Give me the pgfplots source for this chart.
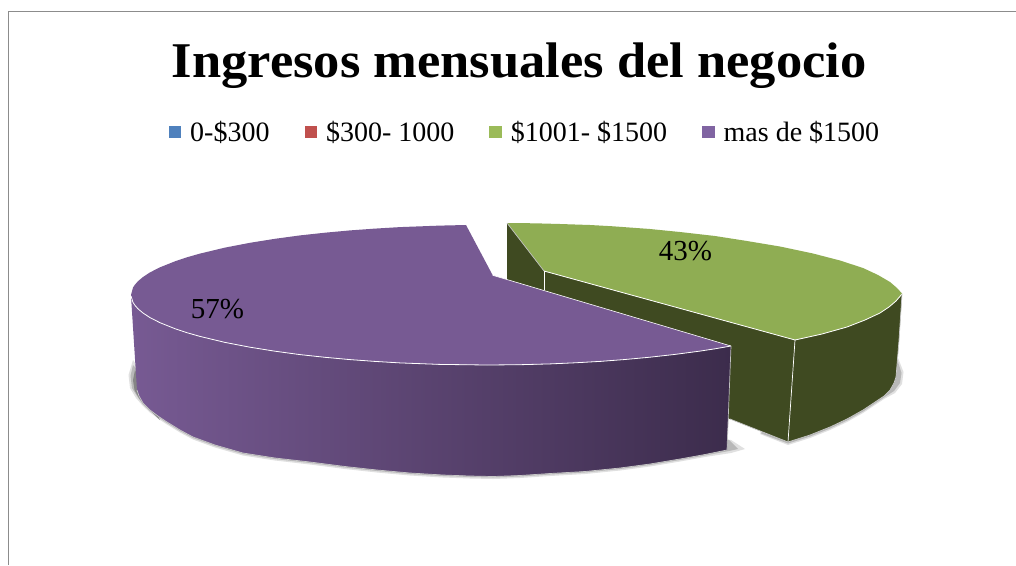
\documentclass[border=0pt]{standalone}
\usepackage{fontspec}
\setmainfont{Liberation Serif}
\usepackage{pgfplots}
\pgfplotsset{compat=1.18}
\definecolor{purpleTop}{HTML}{775A93}
\definecolor{purpleMid}{HTML}{5E4875}
\definecolor{purpleDark}{HTML}{3C2C4C}
\definecolor{greenTop}{HTML}{8FAD53}
\definecolor{greenDark}{HTML}{3F4A21}
\definecolor{frameGray}{HTML}{8C8C8C}
\begin{document}
\begin{tikzpicture}
\begin{axis}[
  scale only axis, width=1016pt, height=565pt,
  xmin=0, xmax=1016, ymin=0, ymax=565, y dir=reverse,
  axis lines=none, ticks=none,
  every axis plot/.append style={no markers, forget plot, line join=round},
  title={\scalebox{1.05}[1]{\fontsize{50}{52}\selectfont\bfseries Ingresos mensuales del negocio}},
  title style={at={(axis description cs:0.511,0.853)}, anchor=base, inner sep=0pt},
  legend columns=4,
  legend style={at={(axis description cs:0.5157,0.766)}, anchor=center, draw=none, fill=none,
    font=\fontsize{28}{30}\selectfont, inner sep=0pt, outer sep=0pt,
    nodes={inner sep=0pt},
    /tikz/every even column/.append style={column sep=35pt},
    /tikz/every odd column/.append style={column sep=9pt}},
  legend cell align=left,
  legend image code/.code={\path[#1,draw=none] (0pt,-6pt) rectangle (12.5pt,6.5pt);},
]
% page background and frame
\addplot[fill=white, draw=none] coordinates {(0,0) (1016,0) (1016,565) (0,565)} --cycle;
\addplot[frameGray, line width=1.8pt] coordinates {(8.5,565) (8.5,11.5) (1016,11.5)};

\addlegendimage{fill={rgb,255:red,79;green,129;blue,189}}
\addlegendentry{0-\$300}
\addlegendimage{fill={rgb,255:red,192;green,80;blue,77}}
\addlegendentry{\$300- 1000}
\addlegendimage{fill={rgb,255:red,155;green,187;blue,89}}
\addlegendentry{\$1001- \$1500}
\addlegendimage{fill={rgb,255:red,128;green,100;blue,162}}
\addlegendentry{mas de \$1500}

% shadows, purple slice (three layers, soft edge)
\addplot[fill=black!12, draw=none] coordinates {(133,360) (128.5,375) (130,388) (136,398) (143,406) (150,412.5) (158,418.5) (167,424.5) (180,432.5) (193,439.5) (215,447.5) (243,455.5) (275,460.5) (310,464.5) (345,469) (377,472.5) (410,475.5) (443,477.5) (470,478.5) (493,479) (520,478) (550,476) (585,474) (620,470.5) (650,466.5) (680,461.5) (705,457) (731,453) (745,449) (731,440) (140,370)} --cycle;
\addplot[fill=black!28, draw=none] coordinates {(133,365) (130.5,376) (132,388) (137,396) (143,404.5) (150,411) (158,417) (167,423) (180,431) (193,438) (215,446) (243,454) (275,459) (310,463) (345,467.5) (377,471) (410,474) (443,476) (470,477) (493,477.5) (520,476.5) (550,474.5) (585,472.5) (620,469) (650,465) (680,460) (705,455.5) (729,451) (738,449) (729,440) (140,372)} --cycle;
\addplot[fill=black!48, draw=none] coordinates {(135,370) (133,380) (134.5,390) (139,398) (143,403) (150,410) (160,420) (140,380)} --cycle;
% shadows, green slice
\addplot[fill=black!12, draw=none] coordinates {(898,358) (903.5,372) (902,384) (895,393) (884,399) (875,405) (863,413) (847,422) (830,430) (810,438) (788,445) (760,434) (790,420)} --cycle;
\addplot[fill=black!28, draw=none] coordinates {(898,362) (901.5,373) (900,383) (894,391) (884,397.5) (875,403.5) (863,411.5) (847,420.5) (830,428.5) (810,436.5) (788,443.5) (760,433) (790,420)} --cycle;

% green slice: sides
\addplot[fill=greenDark, draw=none] coordinates {(507,223) (544,271) (795,340) (788,442) (730,419) (700,405) (507,300)} --cycle;
\addplot[fill=greenDark, draw=none] coordinates {(795,340) (822,334) (847,327) (865,320) (880,313) (889,307) (896,301) (902,294) (899,340) (896,377) (894,383) (890,390) (884,396) (875,402) (863,410) (847,419) (830,427) (810,435) (788,442)} --cycle;
% green slice: top
\addplot[fill=greenTop, draw=none] coordinates {(507,223) (535,223.3) (560,224) (590,225) (613,226.3) (650,229) (680,232) (715,236) (747,241) (780,246.5) (813,253.5) (840,260.5) (863,268) (878,275) (890,282) (897,288) (902,293.5) (902,294.5) (896,301) (889,307) (880,313) (865,320) (847,327) (822,334) (795,340) (544,271)} --cycle;
% green edges
\addplot[white, line width=0.8pt] coordinates {(544,271) (795,340)};
\addplot[white, line width=0.8pt] coordinates {(795,340) (822,334) (847,327) (865,320) (880,313) (889,307) (896,301) (902,294)};
\addplot[white, line width=0.7pt] coordinates {(795,340) (788,442)};
\addplot[white, line width=0.6pt] coordinates {(544,271) (544,290)};
\addplot[white!75!black, line width=0.7pt] coordinates {(507,223) (544,271)};
\addplot[white!78!black, line width=0.7pt] coordinates {(730,419) (788,442) (810,435) (830,427) (847,419) (863,410) (875,402) (884,396) (890,390) (894,383) (896,377)};
\addplot[white!78!black, line width=0.7pt] coordinates {(902,294) (899,340) (896,377)};

% purple slice: side
\addplot[left color=purpleTop, middle color=purpleMid, right color=purpleDark, draw=none] coordinates {
 (131,296) (133,302.4) (135,305.4) (138,308.8) (143,313) (150,317.6) (160,322.7) (175,328.7) (187,332.7) (200,336.4) (225,342.4) (250,347.2) (275,351.2) (300,354.6) (325,357.3) (350,359.6) (375,361.4) (400,362.9) (440,364.4) (487,365) (520,364.7) (550,363.9) (575,362.8) (600,361.4) (625,359.5) (650,357.2) (675,354.4) (700,351.1) (715,348.8) (731,346)
 (727,450) (705,454.5) (680,459) (650,464) (620,468) (585,471.5) (550,473.5) (520,475.5) (493,476.5) (470,476) (443,475) (410,473) (377,470) (345,466.5) (310,462) (275,458) (243,453) (215,445) (193,437) (180,430) (167,422) (158,416) (150,410) (143,403) (139,396) (137,390)} --cycle;
% purple slice: top
\addplot[fill=purpleTop, draw=none] coordinates {
 (131,295) (133,287.6) (135,284.6) (138,281.2) (143,277) (150,272.4) (160,267.3) (175,261.3) (187,257.3) (200,253.6) (225,247.6) (250,242.8) (275,238.8) (300,235.4) (325,232.7) (350,230.4) (375,228.6) (400,227.1) (440,225.6) (466,225)
 (492.7,275.3) (731,346)
 (715,348.8) (700,351.1) (675,354.4) (650,357.2) (625,359.5) (600,361.4) (575,362.8) (550,363.9) (520,364.7) (487,365) (440,364.4) (400,362.9) (375,361.4) (350,359.6) (325,357.3) (300,354.6) (275,351.2) (250,347.2) (225,342.4) (200,336.4) (187,332.7) (175,328.7) (160,322.7) (150,317.6) (143,313) (138,308.8) (135,305.4) (133,302.4)} --cycle;
% purple edges
\addplot[white, line width=0.8pt] coordinates {(131,296) (133,302.4) (135,305.4) (138,308.8) (143,313) (150,317.6) (160,322.7) (175,328.7) (187,332.7) (200,336.4) (225,342.4) (250,347.2) (275,351.2) (300,354.6) (325,357.3) (350,359.6) (375,361.4) (400,362.9) (440,364.4) (487,365) (520,364.7) (550,363.9) (575,362.8) (600,361.4) (625,359.5) (650,357.2) (675,354.4) (700,351.1) (715,348.8) (731,346)};
\addplot[white, line width=0.6pt] coordinates {(492.7,275.3) (731,346)};
\addplot[white!75!black, line width=0.7pt] coordinates {(731,346) (727,450)};
\addplot[white!78!black, line width=0.7pt] coordinates {(727,450) (705,454.5) (680,459) (650,464) (620,468) (585,471.5) (550,473.5) (520,475.5) (493,476.5) (470,476) (443,475) (410,473) (377,470) (345,466.5) (310,462) (275,458) (243,453) (215,445) (193,437) (180,430) (167,422) (158,416) (150,410) (143,403) (139,396) (137,390)};

% data labels
\node[font=\fontsize{29}{30}\selectfont, inner sep=0pt] at (axis cs:685.5,251.5) {43\%};
\node[font=\fontsize{29}{30}\selectfont, inner sep=0pt] at (axis cs:217.5,309) {57\%};
\end{axis}
\end{tikzpicture}
\end{document}
